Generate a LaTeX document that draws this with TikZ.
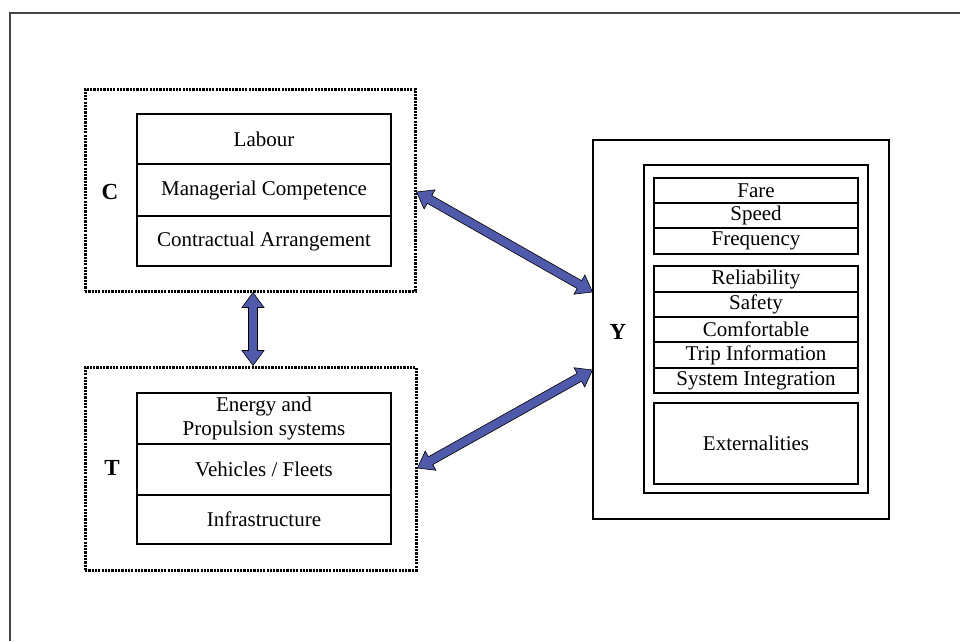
\documentclass[tikz,border=0pt]{standalone}
\usepackage{fontspec}
\setmainfont{Liberation Serif}
\usetikzlibrary{calc}
\definecolor{arrowblue}{RGB}{80,90,170}
\definecolor{framegray}{RGB}{70,70,70}

% Double-headed block arrow between two named coordinates
\newcommand\fatarrow[2]{%
  \coordinate (fa-a) at ($(#1)!15pt!(#2)$);
  \coordinate (fa-b) at ($(#2)!15pt!(#1)$);
  \filldraw[blockarrow] (#1)
    -- ($(fa-a)!11pt!90:(#2)$) -- ($(fa-a)!4.5pt!90:(#2)$)
    -- ($(fa-b)!4.5pt!-90:(#1)$) -- ($(fa-b)!11pt!-90:(#1)$)
    -- (#2)
    -- ($(fa-b)!11pt!90:(#1)$) -- ($(fa-b)!4.5pt!90:(#1)$)
    -- ($(fa-a)!4.5pt!-90:(#2)$) -- ($(fa-a)!11pt!-90:(#2)$)
    -- cycle;
}

\tikzset{
  dashbox/.style={draw, line width=3pt, dash pattern=on 2.2pt off 1.1pt, inner sep=0pt},
  plainbox/.style={draw, line width=1.1pt, inner sep=0pt},
  cell/.style={draw, line width=1.1pt, inner sep=0pt, align=center,
    font=\fontsize{21}{24}\selectfont},
  groupmark/.style={font=\fontsize{23}{26}\selectfont\bfseries},
  blockarrow/.style={fill=arrowblue, draw=black, line width=0.6pt, line join=miter},
}

\begin{document}
\begin{tikzpicture}[x=1pt, y=-1pt]
  \useasboundingbox (0,0) rectangle (960,641);

  % page frame
  \draw[framegray, line width=2pt] (10,641) -- (10,13) -- (960,13);

  % C group
  \node[dashbox, minimum width=330pt, minimum height=202pt] (Cbox) at (250,190) {};
  \node[cell, minimum width=254pt, minimum height=50pt] (labour) at (264,139) {Labour};
  \node[cell, minimum width=254pt, minimum height=52pt] (manager) at (264,190) {Managerial Competence};
  \node[cell, minimum width=254pt, minimum height=50pt] (contract) at (264,241) {Contractual Arrangement};
  \node[groupmark] (Clabel) at (110,192) {C};

  % T group
  \node[dashbox, minimum width=331pt, minimum height=203pt] (Tbox) at (250.5,468.5) {};
  \node[cell, minimum width=254pt, minimum height=51pt] (energy) at (264,418.5) {Energy and\\Propulsion systems};
  \node[cell, minimum width=254pt, minimum height=51pt] (fleet) at (264,469.5) {Vehicles / Fleets};
  \node[cell, minimum width=254pt, minimum height=49pt] (infra) at (264,519.5) {Infrastructure};
  \node[groupmark] (Tlabel) at (112,468) {T};

  % Y group
  \node[plainbox, minimum width=296pt, minimum height=379pt] (Ybox) at (741,329.5) {};
  \node[plainbox, minimum width=224pt, minimum height=328pt] (Yinner) at (756,329) {};
  \node[cell, minimum width=204pt, minimum height=25pt] (fare) at (756,190.5) {Fare};
  \node[cell, minimum width=204pt, minimum height=25pt] (speed) at (756,215.5) {Speed};
  \node[cell, minimum width=204pt, minimum height=26pt] (freq) at (756,241) {Frequency};
  \node[cell, minimum width=204pt, minimum height=26pt] (reli) at (756,279) {Reliability};
  \node[cell, minimum width=204pt, minimum height=25pt] (safety) at (756,304.5) {Safety};
  \node[cell, minimum width=204pt, minimum height=25pt] (comfort) at (756,329.5) {Comfortable};
  \node[cell, minimum width=204pt, minimum height=26pt] (tripinfo) at (756,355) {Trip Information};
  \node[cell, minimum width=204pt, minimum height=25pt] (sysint) at (756,380.5) {System Integration};
  \node[cell, minimum width=204pt, minimum height=81pt] (extern) at (756,443.5) {Externalities};
  \node[groupmark] (Ylabel) at (618,332) {Y};

  % connectors
  \coordinate (cy-c) at (Cbox.east |- 0,192);
  \coordinate (cy-y) at (Ybox.west |- 0,292);
  \coordinate (ty-t) at (Tbox.east |- 0,468);
  \coordinate (ty-y) at (Ybox.west |- 0,370);
  \coordinate (ct-c) at (Cbox.south -| 253,0);
  \coordinate (ct-t) at (Tbox.north -| 253,0);
  \fatarrow{cy-c}{cy-y}
  \fatarrow{ty-t}{ty-y}
  \fatarrow{ct-c}{ct-t}
\end{tikzpicture}
\end{document}
